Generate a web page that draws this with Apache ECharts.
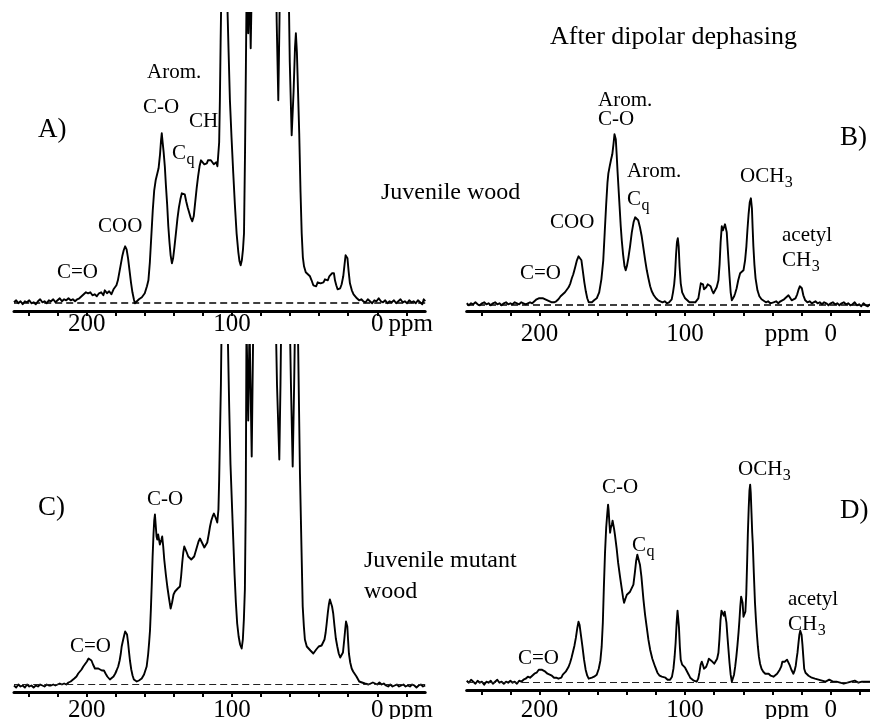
<!DOCTYPE html>
<html>
<head>
<meta charset="utf-8">
<script src="https://cdn.jsdelivr.net/npm/echarts@6/dist/echarts.min.js"></script>
<style>
html,body{margin:0;padding:0;background:#fff;}
#chart{width:870px;height:719px;}
</style>
</head>
<body>
<div id="chart"></div>
<script>
// ---------------- DATA (ppm, intensity above baseline; arbitrary units) ----------------
const ppmTicks = [240,220,200,180,160,140,120,100,80,60,40,20,0,-20];
const tickLabelsLeft = [[200,'200'],[100,'100'],[0,'0'],[-23,'ppm']];
const tickLabelsRight = [[200,'200'],[100,'100'],[30,'ppm'],[0,'0']];

const spectrumA = [
[250,0],[248.5,2],[247,-1],[245.5,1],[244,-2],[242.5,1],[241,0],[239.5,2],[238,-1],[236.5,0],[235,-2],[233.5,1],[232,3],[230.5,0],[229,1],[227.5,-1],[226,2],[224.5,1],[223,3],[221.5,0],[220,2],[218.5,4],[217,1],[215.5,3],[214,2],[212.5,4],[211,2],[209.5,3],[208,1],[206.5,3],[205,4],[203.5,6],[202,8],[200.5,10],[199,9],[197.5,10],[196,7],[194.5,8],[193,6],[191.5,9],[190,10],[188.5,7],[187.5,12],[186,9],[184.5,11],[183,8],[181.5,13],[180.5,11],[179.5,17],[178.5,22],[177.5,30],[176.5,38],[175.5,46],[174.5,52],[173.5,56],[172.5,53],[171.5,44],[170.5,32],[169.5,20],[168.5,10],[167.5,3],[166.8,-1],[165.5,0],[164,3],[162,5],[160,9],[158.5,16],[157.5,22],[156.5,40],[155.5,66],[154.5,92],[153.5,112],[152.5,122],[151.5,128],[150.5,134],[149.5,148],[148.8,162],[148.3,169],[147.7,160],[147,150],[146.2,136],[145.5,118],[144.6,98],[143.8,76],[143,60],[142.2,47],[141.3,39],[140.5,44],[139.6,55],[138.5,70],[137.5,84],[136.5,95],[135.5,103],[134.5,109],[133.5,111],[132.5,108],[131.5,101],[130.5,95],[129.5,90],[128.5,85],[127.3,81],[126.3,86],[125.3,100],[124.3,114],[123.3,126],[122.3,136],[121.3,142],[120.8,144],[120,141],[119,138],[118,140],[117.3,139],[116.5,142],[115.5,144],[114.5,142],[113.5,140],[112.5,138],[111.7,137],[110.8,140],[110,136],[109.4,134],[108.8,160],[108.3,202],[107.8,260],[107.1,330],[106,450],[104,450],[103.2,300],[102.3,250],[101.4,202],[100.3,165],[99.1,129],[98,98],[96.8,69],[95.6,50],[94.8,41],[94,37],[93.2,42],[92.4,53],[91.7,69],[91,150],[90.4,236],[89.8,330],[88.8,269],[88,330],[87.1,254],[86.2,330],[85.5,420],[80,500],[72,500],[70.3,400],[69.2,280],[68.1,202],[67.3,280],[66.5,400],[64,500],[61.8,400],[60.2,240],[58.9,167],[57.6,210],[56.6,255],[56,269],[55.3,250],[54.5,210],[53.7,169],[52.8,110],[52,69],[51.2,45],[50.4,36],[49.2,30],[48,28],[46.3,26],[45.2,22],[44,17],[43,18],[42,16],[41,20],[40,18],[39,19],[38,21],[37,20],[36,23],[35,24],[34,22],[33,26],[32,25],[31.2,29],[30.5,27],[29.8,29],[29.1,22],[28.2,17],[27.3,13],[26.4,11],[25.5,14],[24.5,18],[23.4,26],[22.5,38],[21.8,47],[21.1,49],[20.5,44],[19.7,31],[18.8,19],[17.5,12],[16.3,8],[15.3,6],[14,4],[12.5,2],[11,3],[9.6,1],[8,0],[6.5,3],[5,1],[3.5,-1],[2,2],[0.5,1],[-1,4],[-2.5,1],[-4,0],[-5.5,2],[-7,-1],[-8.5,1],[-10,0],[-11.5,2],[-13,-1],[-14.5,1],[-16,3],[-17.5,0],[-19,1],[-20.5,-1],[-22,2],[-23.5,0],[-25,1],[-26.5,-1],[-28,2],[-29.5,0],[-31,-2],[-32,3],[-33,1]
];

const spectrumB = [
[250,1],[248.5,-1],[247,1],[245.5,0],[244,2],[242.5,0],[241,-1],[239.5,1],[238,2],[236.5,0],[235,1],[233.5,-1],[232,1],[230.5,2],[229,0],[227.5,1],[226,-1],[224.5,1],[223,2],[221.5,0],[220,1],[218.5,0],[217,2],[215.5,1],[214,0],[212.5,2],[211,1],[209.5,0],[208,1],[206.5,2],[205,1],[203.5,3],[202,5],[200.5,6],[199,6],[197.5,6],[196,5],[194.5,4],[193,3],[191.5,2],[190,2],[188.5,3],[187,5],[185.5,8],[184,10],[182.5,12],[181.3,14],[180,17],[178.8,21],[177.8,26],[176.8,30],[175.5,37],[174.3,44],[173.2,48],[172.2,49],[171.2,44],[170.2,33],[169.2,22],[168.2,13],[167.2,6],[166.2,2],[165.3,1],[164,2],[162.5,4],[160.7,6],[159,12],[157.5,25],[156.2,44],[155.2,72],[154.2,100],[153.3,122],[152.7,131],[151.8,138],[150.8,145],[150,150],[149.2,160],[148.5,170],[148.1,172],[147.6,165],[147,150],[146.4,133],[145.8,118],[145,98],[144.2,78],[143.5,64],[142.6,50],[141.6,38],[140.8,34],[140,38],[139,46],[137.8,58],[136.6,72],[135.4,82],[134.3,87],[133.2,88],[132.2,84],[131,77],[129.8,68],[128.5,55],[127.3,43],[126.3,34],[125.2,26],[124,18],[122.9,13],[121.5,9],[120,6],[118.5,4],[117.2,3],[115.5,2],[114,3],[112.5,1],[111,2],[110.3,2],[109.2,5],[108.3,12],[107.5,20],[106.9,30],[106.2,50],[105.6,62],[105,66],[104.4,58],[103.8,38],[103,21],[102,12],[101,9],[100,6],[98.5,4],[97,2],[95.5,2],[94.3,1],[93,2],[91.8,3],[90.9,6],[90,14],[89.2,21],[88.5,23],[87.7,20],[87,15],[86.3,14],[85.5,17],[84.5,20],[83.5,21],[82.5,18],[81.5,14],[80.5,11],[79.5,13],[78.3,17],[77.1,24],[76.3,40],[75.6,62],[74.8,78],[74,74],[73.2,76],[72.6,80],[72,81],[71.4,72],[70.8,58],[70.2,44],[69.5,28],[68.7,12],[67.9,4],[67,5],[66.3,8],[65.6,11],[64.6,16],[63.5,24],[62.2,31],[61,33],[59.9,34],[58.8,44],[57.9,58],[57.2,74],[56.4,90],[55.6,102],[54.8,106],[54.1,96],[53.6,76],[53.1,58],[52.4,40],[51.6,26],[50.3,14],[49,8],[47.5,5],[46.2,3],[44.5,2],[43,3],[41.5,1],[39.3,2],[37.5,3],[36,1],[34.5,3],[33.5,3],[32,5],[30.5,7],[29,9],[28,7],[26.8,4],[25.6,3],[24.2,6],[23,10],[22,15],[21.2,18],[20.5,19],[19.8,16],[18.8,9],[17.5,4],[16,2],[14.5,3],[13,1],[11.8,1],[10.5,3],[9,1],[7.5,2],[6,0],[4.5,2],[3,1],[1.5,-1],[0,1],[-1.5,2],[-3,0],[-4.5,1],[-6,-1],[-7.5,1],[-9,2],[-10.5,0],[-12,1],[-13.5,-1],[-15,0],[-16.5,2],[-18,-1],[-19.5,0],[-21,-2],[-22.5,1],[-24,-1],[-25.5,-2],[-27,0]
];

const spectrumC = [
[250,-1],[248.5,-3],[247,0],[245.5,-2],[244,-1],[242.5,-3],[241,0],[239.5,-2],[238,-1],[236.5,-3],[235,-1],[233.5,-2],[232,0],[230.5,-1],[229,-2],[227.5,0],[226,-1],[224.5,-1],[223,0],[221.5,-1],[220,0],[218.5,1],[217,0],[215.5,1],[214,0],[212.5,2],[211,3],[210,4],[208.5,6],[207,8],[205.8,11],[204.5,13],[203.5,15],[202.3,18],[201,20],[199.8,23],[198.7,26],[197.7,26],[196.7,24],[195.6,20],[194.3,16],[193.2,15],[192,16],[190.8,15],[189.5,14],[188.1,14],[187,11],[185.8,8],[184.8,6],[184,5],[182.8,6],[181.5,8],[180.3,11],[179.4,14],[178.3,18],[177.3,24],[176.5,31],[175.9,38],[175,44],[174.2,49],[173.5,53],[172.9,54],[172.2,50],[171.5,42],[170.8,32],[170.2,24],[169.3,15],[168.4,9],[167.5,5],[166.8,3],[165.5,3],[164,4],[162.1,6],[160.5,10],[158.7,18],[157.7,30],[157,42],[156.4,54],[155.8,75],[155.2,100],[154.6,128],[154,150],[153.5,164],[153,170],[152.5,160],[151.9,148],[151.4,145],[150.8,150],[150.2,148],[149.6,140],[149.1,138],[148.5,145],[148,148],[147.3,138],[146.6,125],[145.5,110],[144.5,98],[143.3,86],[142.2,76],[141.2,82],[140.2,90],[139.2,93],[138.3,94],[137.3,96],[136.4,98],[135.8,98],[135,108],[134.2,122],[133.5,132],[132.8,138],[132.1,136],[131.1,132],[130.1,128],[129,126],[128,125],[127.1,125],[126,128],[125,133],[124,138],[123,143],[122,146],[121,143],[120,140],[119,137],[117.9,135],[117,142],[116,150],[115.1,158],[114.2,164],[113.3,168],[112.4,171],[111.7,169],[111,166],[110.1,162],[109.3,175],[108.8,205],[108.3,245],[107.6,300],[106.4,450],[104,450],[103,360],[101.9,278],[101,220],[100,180],[99.1,145],[98.2,110],[97.3,82],[96.4,61],[95.4,48],[94.4,40],[93.3,36],[92.5,45],[91.8,65],[91.1,95],[90.5,180],[90,360],[88.8,264],[87.9,360],[86.4,228],[85,400],[80,500],[72,500],[70.3,400],[69,300],[67.4,225],[66.6,300],[65.8,400],[62,500],[60.6,400],[59.4,300],[58.2,218],[57.2,300],[56,420],[54.5,345],[53.2,211],[52.2,140],[51.3,78],[50.5,58],[49.8,45],[48.5,38],[47.3,36],[46,34],[45,32],[44,31],[43,33],[42,35],[41,37],[40.3,38],[39.3,38],[38.3,39],[37.2,40],[36.3,45],[35.5,52],[34.8,61],[34,72],[33.3,80],[32.6,85],[31.9,83],[31.1,78],[30.3,71],[29.4,58],[28.5,46],[27.5,38],[26.5,31],[25.5,27],[24.5,25],[23.6,32],[22.7,45],[22,56],[21.5,63],[21.1,65],[20.6,58],[20.1,45],[19.5,31],[18.6,22],[17.6,16],[16.6,13],[15.3,11],[14.3,8],[13.3,6],[12.4,3],[11.5,4],[10.5,2],[9.5,3],[8.5,1],[7.5,2],[6,0],[4.5,1],[3,2],[1.5,1],[0,0],[-1.5,2],[-3,0],[-4.5,1],[-6,-1],[-7.5,-2],[-9,0],[-10.5,-2],[-12,-1],[-13.5,0],[-15,-2],[-16.5,-1],[-18,0],[-19.5,-2],[-21,-1],[-22.5,-2],[-24,0],[-25.5,-1],[-27,-3],[-28.5,-1],[-30,0],[-31.5,-2],[-33,-1]
];

const spectrumD = [
[250,2],[248.5,0],[247,3],[245.5,1],[244,-1],[242.5,2],[241,0],[239.5,1],[238,-2],[236.5,1],[235,0],[233.5,2],[232,-1],[230.5,1],[229,3],[227.5,0],[226,1],[224.5,-1],[223,1],[221.5,0],[220,2],[218.5,0],[217,1],[215.5,-1],[214,2],[212.5,1],[211,3],[209.5,4],[208,6],[206.5,5],[205,7],[203.5,9],[202,10],[200.5,13],[199.5,12],[198.5,13],[197.2,11],[196,11],[194.5,9],[193,8],[191.5,7],[190,5],[188.5,5],[187,4],[186,3],[185,5],[184,8],[183,10],[182,11],[181,13],[180,16],[179,20],[178,25],[177,31],[176,37],[175,45],[174,55],[173.2,61],[172.5,58],[171.5,47],[170.5,36],[169.4,23],[168.3,13],[167.2,7],[166.2,4],[165.2,4],[164,5],[162.5,6],[160.7,8],[159.3,14],[158.2,22],[157.3,36],[156.5,60],[155.8,95],[155,130],[154.2,155],[153.4,170],[152.9,178],[152.5,172],[152,160],[151.5,150],[151,155],[150.3,158],[149.8,162],[149.3,161],[148.8,154],[148.2,148],[147.7,146],[147,134],[146,120],[144.7,106],[143.5,94],[142.6,85],[141.9,80],[141,84],[140,88],[139,90],[137.8,91],[136.6,91],[135.5,98],[134.5,110],[133.6,122],[132.8,128],[132,126],[131,118],[130,106],[128.6,83],[127.5,68],[126.4,56],[125.2,43],[124,33],[122.5,24],[120.6,16],[119,10],[117.5,7],[116,6],[114.9,4],[113.5,5],[112,3],[110.3,3],[109,6],[108,14],[107.2,26],[106.5,40],[105.8,60],[105.2,72],[104.7,70],[104.2,55],[103.6,36],[103,23],[102,18],[101,17],[100,15],[98.8,13],[97.5,8],[96.5,5],[95.4,3],[94,2],[93,1],[92,1],[91,4],[90.2,10],[89.3,18],[88.5,21],[87.8,18],[87,14],[86.3,13],[85.5,16],[84.5,20],[83.7,24],[83,24],[82,22],[81,20],[80,19],[79,20],[78,24],[77.1,30],[76.4,44],[75.7,62],[75,72],[74.5,74],[74,70],[73.4,67],[72.8,71],[72.2,70],[71.6,60],[70.9,46],[70.2,33],[69.5,20],[68.7,8],[67.9,1],[67.2,3],[66.4,8],[65.6,16],[64.8,26],[64,38],[63.3,50],[62.7,62],[62.1,76],[61.5,86],[61,88],[60.5,80],[59.9,66],[59.2,68],[58.6,71],[58,88],[57.4,120],[56.9,149],[56.3,175],[55.8,192],[55.3,198],[54.9,190],[54.4,170],[53.9,150],[53.5,139],[52.8,110],[52,80],[51.3,62],[50.7,49],[50,36],[49.3,26],[48.5,19],[47.5,14],[46.3,11],[44.9,9],[43.9,8],[42.6,9],[41.2,7],[39.3,6],[38,8],[36.8,9],[35.9,11],[35,13],[34,16],[33.2,21],[32.4,23],[31.6,21],[30.8,22],[30,23],[29,21],[28,17],[27,13],[26.3,11],[25.6,9],[24.8,12],[24,17],[23.4,24],[22.8,30],[22.1,40],[21.5,48],[20.9,52],[20.5,53],[20,48],[19.4,38],[18.8,26],[18.2,14],[17.3,10],[16.2,8],[15.2,7],[14.1,6],[13,5],[12,4],[10.8,4],[9.6,3],[8.4,3],[7.2,4],[6,2],[4.8,3],[3.5,1],[2.3,2],[1,3],[-0.3,2],[-1.5,1],[-2.7,3],[-4,1],[-5.3,2],[-6.5,0],[-7.8,-1],[-9,-1],[-10.3,-2],[-11.5,0],[-12.8,-1],[-14,1],[-15.3,0],[-16.5,2],[-17.8,1],[-19,0],[-20.3,2],[-21.5,1],[-22.8,3],[-24,1],[-25.3,2],[-27,1]
];

// Text annotations: [text, subscript]
const labelsA = [['A)',''],['Arom.',''],['C-O',''],['CH',''],['C','q'],['COO',''],['C=O',''],['Juvenile wood','']];
const labelsB = [['After dipolar dephasing',''],['B)',''],['Arom.',''],['C-O',''],['Arom.',''],['C','q'],['COO',''],['C=O',''],['OCH','3'],['acetyl',''],['CH','3']];
const labelsC = [['C)',''],['C-O',''],['C=O',''],['Juvenile mutant',''],['wood','']];
const labelsD = [['D)',''],['C-O',''],['C','q'],['OCH','3'],['acetyl',''],['CH','3'],['C=O','']];

// ---------------- LAYOUT ----------------
const FONT = '"Liberation Serif", "Times New Roman", serif';
// placement of each label: [left x, center y, font size]
const placeA = [[38,130,27],[147,72,21],[143,107,21],[189,121,21],[172,153,21],[98,226,21],[57,272,21],[381,193,24]];
const placeB = [[550,37,26],[840,138,27],[598,100,21],[598,119,21],[627,171,21],[627,199,21],[550,222,21],[520,273,21],[740,176,21],[782,235,21],[782,260,21]];
const placeC = [[38,508,27],[147,499,21],[70,646,21],[364,561,24],[364,592,24]];
const placeD = [[840,511,27],[602,487,21],[632,545,21],[738,469,21],[788,599,21],[788,624,21],[518,658,21]];

const panels = [
  {grid:{left:14, top:13, width:411.2, height:298}, x:[-33,250], y:[-8.7,289.3], labels:tickLabelsLeft, margin:13, data:spectrumA, dash:{width:1.6,color:'#000'}},
  {grid:{left:466.7, top:13, width:403.3, height:298}, x:[-27,250], y:[-6.7,291.3], labels:tickLabelsRight, margin:23, data:spectrumB, dash:{width:1.6,color:'#000'}},
  {grid:{left:14, top:345, width:411.2, height:347}, x:[-33,250], y:[-7.5,339.5], labels:tickLabelsLeft, margin:18, data:spectrumC, dash:{width:1.1,color:'#222'}},
  {grid:{left:466.7, top:345, width:403.3, height:345}, x:[-27,250], y:[-7.3,337.7], labels:tickLabelsRight, margin:20, data:spectrumD, dash:{width:1.1,color:'#222'}}
];

const grids = [], xAxes = [], yAxes = [], series = [];
panels.forEach((p, i) => {
  grids.push(Object.assign({outerBoundsMode:'none', containLabel:false}, p.grid));
  const lab = {};
  p.labels.forEach(l => { lab[l[0]] = l[1]; });
  xAxes.push({
    type:'value', gridIndex:i, inverse:true, min:p.x[0], max:p.x[1],
    axisLine:{show:true, onZero:false, lineStyle:{color:'#000', width:3}},
    axisTick:{show:true, inside:false, length:5, customValues:ppmTicks, lineStyle:{color:'#000', width:2}},
    axisLabel:{show:true, customValues:p.labels.map(l=>l[0]), margin:p.margin, verticalAlign:'middle',
      color:'#000', fontFamily:FONT, fontSize:25, formatter:(v)=> (lab[v] !== undefined ? lab[v] : '')},
    splitLine:{show:false}
  });
  yAxes.push({type:'value', gridIndex:i, min:p.y[0], max:p.y[1], show:false, splitLine:{show:false}});
  series.push({
    type:'line', xAxisIndex:i, yAxisIndex:i, data:p.data, showSymbol:false, symbol:'none',
    clip:true, smooth:false, lineStyle:{color:'#000', width:1.9, join:'round'}, z:3,
    markLine:{silent:true, symbol:['none','none'], label:{show:false}, animation:false,
      lineStyle:{type:[7,4], color:p.dash.color, width:p.dash.width}, data:[{yAxis:0}]}
  });
});

// text graphics
const measureCtx = document.createElement('canvas').getContext('2d');
function textEls(labels, places) {
  const out = [];
  labels.forEach((l, k) => {
    const [x, y, fs] = places[k];
    const font = fs + 'px ' + FONT;
    out.push({type:'text', x:x, y:y, silent:true,
      style:{text:l[0], font:font, fill:'#000', textAlign:'left', textVerticalAlign:'middle', verticalAlign:'middle'}});
    if (l[1]) {
      measureCtx.font = font;
      const w = measureCtx.measureText(l[0]).width;
      const sfs = Math.round(fs * 0.78);
      out.push({type:'text', x:x + w + 0.5, y:y + fs * 0.3, silent:true,
        style:{text:l[1], font:sfs + 'px ' + FONT, fill:'#000', textAlign:'left', textVerticalAlign:'middle', verticalAlign:'middle'}});
    }
  });
  return out;
}
const graphics = [].concat(textEls(labelsA, placeA), textEls(labelsB, placeB), textEls(labelsC, placeC), textEls(labelsD, placeD));

const chart = echarts.init(document.getElementById('chart'), null, {renderer:'canvas'});
chart.setOption({
  animation:false,
  backgroundColor:'#fff',
  grid:grids, xAxis:xAxes, yAxis:yAxes, series:series,
  graphic:{elements:graphics}
});
</script>
</body>
</html>
